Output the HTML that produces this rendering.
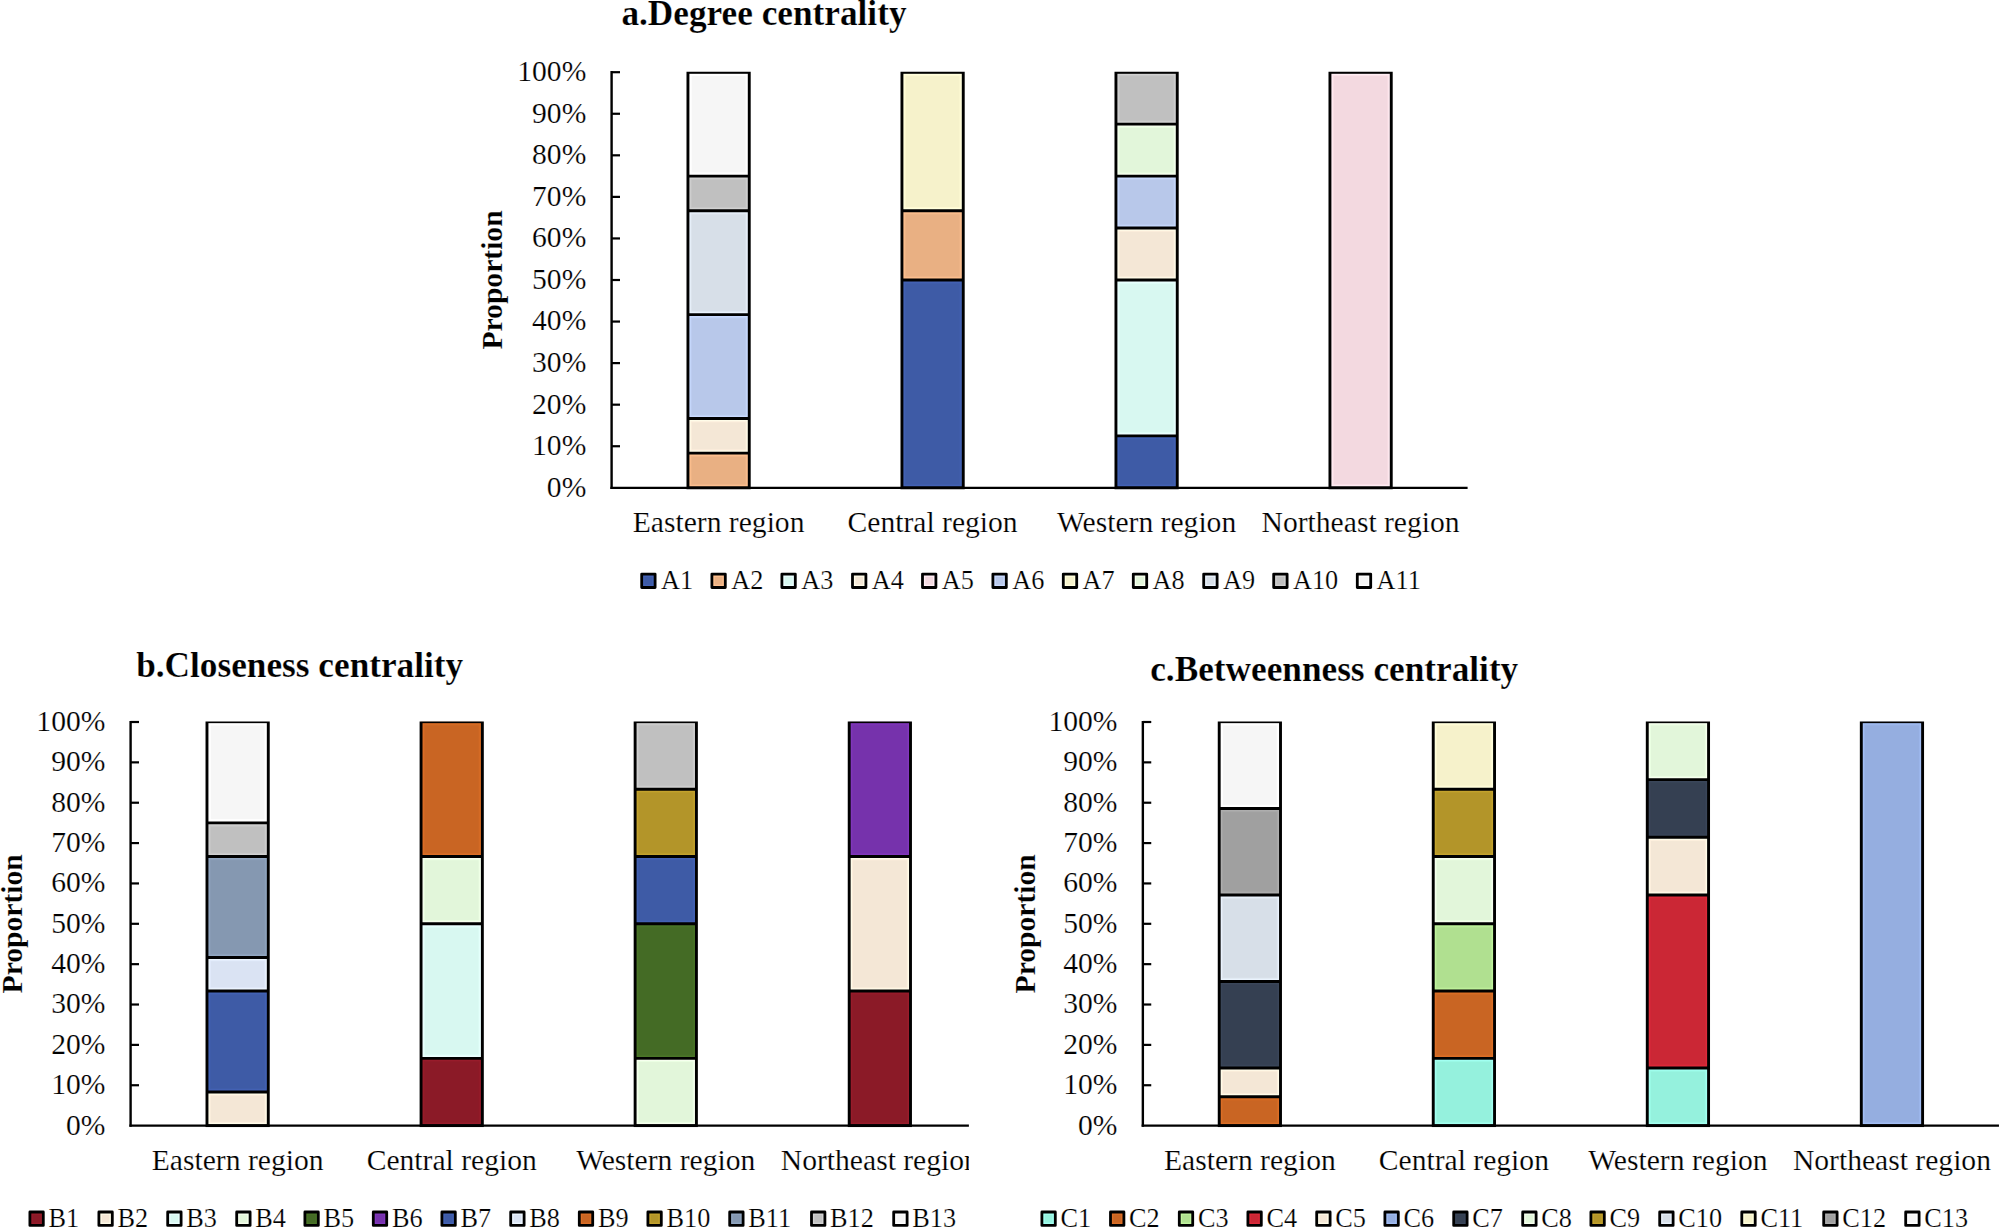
<!DOCTYPE html>
<html lang="en">
<head>
<meta charset="utf-8">
<title>Centrality proportion by region</title>
<style>
html,body{margin:0;padding:0;background:#fff;}
body{width:2000px;height:1229px;overflow:hidden;}
svg{display:block;}
text{font-family:"Liberation Serif",serif;fill:#000;stroke:#fff;stroke-width:0.2px;}
.title{font-size:35.25px;font-weight:bold;}
.ylab{font-size:29.6px;font-weight:bold;text-anchor:middle;}
.tick{font-size:29.6px;text-anchor:end;}
.cat{font-size:29.6px;text-anchor:middle;}
.leg{font-size:26.25px;}
.bar{stroke:#000;stroke-width:2.9;stroke-linejoin:miter;}
.sq{stroke:#000;stroke-width:2.8;stroke-linejoin:round;}
.axis{stroke:#000;fill:none;}
</style>
</head>
<body>
<svg width="2000" height="1229" viewBox="0 0 2000 1229">
<rect x="0" y="0" width="2000" height="1229" fill="#ffffff"/>

<g id="chart-a">
<clipPath id="clip-a"><rect x="0" y="71.8" width="2000" height="1157.2"/></clipPath>
<text class="title" x="621.4" y="24.8">a.Degree centrality</text>
<text class="ylab" transform="translate(502 280) rotate(-90)">Proportion</text>
<g clip-path="url(#clip-a)">
<rect x="687.95" y="453.17" width="61.3" height="34.63" fill="#FEC08F"/>
<rect x="690.7" y="455.92" width="55.8" height="29.13" fill="#F1B688"/>
<rect x="691.7" y="456.92" width="53.8" height="27.13" fill="#E9B083"/>
<rect x="687.95" y="418.53" width="61.3" height="34.63" fill="#FFFCE9"/>
<rect x="690.7" y="421.28" width="55.8" height="29.13" fill="#FDEFDD"/>
<rect x="691.7" y="422.28" width="53.8" height="27.13" fill="#F4E7D6"/>
<rect x="687.95" y="314.63" width="61.3" height="103.9" fill="#C9DAFF"/>
<rect x="690.7" y="317.38" width="55.8" height="98.4" fill="#BECFF2"/>
<rect x="691.7" y="318.38" width="53.8" height="96.4" fill="#B8C8EA"/>
<rect x="687.95" y="210.73" width="61.3" height="103.9" fill="#EAF3FD"/>
<rect x="690.7" y="213.48" width="55.8" height="98.4" fill="#DFE7F0"/>
<rect x="691.7" y="214.48" width="53.8" height="96.4" fill="#D7DFE8"/>
<rect x="687.95" y="176.1" width="61.3" height="34.63" fill="#D1D1D1"/>
<rect x="690.7" y="178.85" width="55.8" height="29.13" fill="#C7C7C7"/>
<rect x="691.7" y="179.85" width="53.8" height="27.13" fill="#C0C0C0"/>
<rect x="687.95" y="72.35" width="61.3" height="103.75" fill="#FFFFFF"/>
<rect x="690.7" y="75.1" width="55.8" height="98.25" fill="#FFFFFF"/>
<rect x="691.7" y="76.1" width="53.8" height="96.25" fill="#F6F6F6"/>
<path class="bar" d="M687.95 453.17H749.25M687.95 418.53H749.25M687.95 314.63H749.25M687.95 210.73H749.25M687.95 176.1H749.25" fill="none"/>
<rect class="bar" x="687.95" y="72.35" width="61.3" height="415.45" fill="none"/>
<rect x="901.95" y="280" width="61.3" height="207.8" fill="#4463B5"/>
<rect x="904.7" y="282.75" width="55.8" height="202.3" fill="#405EAC"/>
<rect x="905.7" y="283.75" width="53.8" height="200.3" fill="#3E5BA6"/>
<rect x="901.95" y="210.73" width="61.3" height="69.27" fill="#FEC08F"/>
<rect x="904.7" y="213.48" width="55.8" height="63.77" fill="#F1B688"/>
<rect x="905.7" y="214.48" width="53.8" height="61.77" fill="#E9B083"/>
<rect x="901.95" y="72.35" width="61.3" height="138.38" fill="#FFFFDD"/>
<rect x="904.7" y="75.1" width="55.8" height="132.88" fill="#FFFAD2"/>
<rect x="905.7" y="76.1" width="53.8" height="130.88" fill="#F6F2CB"/>
<path class="bar" d="M901.95 280H963.25M901.95 210.73H963.25" fill="none"/>
<rect class="bar" x="901.95" y="72.35" width="61.3" height="415.45" fill="none"/>
<rect x="1115.95" y="435.85" width="61.3" height="51.95" fill="#4463B5"/>
<rect x="1118.7" y="438.6" width="55.8" height="46.45" fill="#405EAC"/>
<rect x="1119.7" y="439.6" width="53.8" height="44.45" fill="#3E5BA6"/>
<rect x="1115.95" y="280" width="61.3" height="155.85" fill="#EBFFFF"/>
<rect x="1118.7" y="282.75" width="55.8" height="150.35" fill="#E0FFF9"/>
<rect x="1119.7" y="283.75" width="53.8" height="148.35" fill="#D8F8F1"/>
<rect x="1115.95" y="228.05" width="61.3" height="51.95" fill="#FFFCE9"/>
<rect x="1118.7" y="230.8" width="55.8" height="46.45" fill="#FDEFDD"/>
<rect x="1119.7" y="231.8" width="53.8" height="44.45" fill="#F4E7D6"/>
<rect x="1115.95" y="176.1" width="61.3" height="51.95" fill="#C9DAFF"/>
<rect x="1118.7" y="178.85" width="55.8" height="46.45" fill="#BECFF2"/>
<rect x="1119.7" y="179.85" width="53.8" height="44.45" fill="#B8C8EA"/>
<rect x="1115.95" y="124.15" width="61.3" height="51.95" fill="#F6FFEE"/>
<rect x="1118.7" y="126.9" width="55.8" height="46.45" fill="#EAFFE2"/>
<rect x="1119.7" y="127.9" width="53.8" height="44.45" fill="#E2F6DA"/>
<rect x="1115.95" y="72.35" width="61.3" height="51.8" fill="#D1D1D1"/>
<rect x="1118.7" y="75.1" width="55.8" height="46.3" fill="#C7C7C7"/>
<rect x="1119.7" y="76.1" width="53.8" height="44.3" fill="#C0C0C0"/>
<path class="bar" d="M1115.95 435.85H1177.25M1115.95 280H1177.25M1115.95 228.05H1177.25M1115.95 176.1H1177.25M1115.95 124.15H1177.25" fill="none"/>
<rect class="bar" x="1115.95" y="72.35" width="61.3" height="415.45" fill="none"/>
<rect x="1329.95" y="72.35" width="61.3" height="415.45" fill="#FFEDF4"/>
<rect x="1332.7" y="75.1" width="55.8" height="409.95" fill="#FCE1E8"/>
<rect x="1333.7" y="76.1" width="53.8" height="407.95" fill="#F3D9E0"/>
<rect class="bar" x="1329.95" y="72.35" width="61.3" height="415.45" fill="none"/>
<line class="axis" x1="610.4" y1="487.8" x2="1467.6" y2="487.8" stroke-width="2.2"/>
<text class="cat" x="718.6" y="532.2">Eastern region</text>
<text class="cat" x="932.6" y="532.2">Central region</text>
<text class="cat" x="1146.6" y="532.2">Western region</text>
<text class="cat" x="1360.6" y="532.2">Northeast region</text>
</g>
<line class="axis" x1="611.6" y1="71.1" x2="611.6" y2="488.9" stroke-width="2.4"/>
<text class="tick" x="586.3" y="496.7">0%</text>
<line class="axis" x1="611.6" y1="446.24" x2="620" y2="446.24" stroke-width="2.2"/>
<text class="tick" x="586.3" y="455.14">10%</text>
<line class="axis" x1="611.6" y1="404.68" x2="620" y2="404.68" stroke-width="2.2"/>
<text class="tick" x="586.3" y="413.58">20%</text>
<line class="axis" x1="611.6" y1="363.12" x2="620" y2="363.12" stroke-width="2.2"/>
<text class="tick" x="586.3" y="372.02">30%</text>
<line class="axis" x1="611.6" y1="321.56" x2="620" y2="321.56" stroke-width="2.2"/>
<text class="tick" x="586.3" y="330.46">40%</text>
<line class="axis" x1="611.6" y1="280" x2="620" y2="280" stroke-width="2.2"/>
<text class="tick" x="586.3" y="288.9">50%</text>
<line class="axis" x1="611.6" y1="238.44" x2="620" y2="238.44" stroke-width="2.2"/>
<text class="tick" x="586.3" y="247.34">60%</text>
<line class="axis" x1="611.6" y1="196.88" x2="620" y2="196.88" stroke-width="2.2"/>
<text class="tick" x="586.3" y="205.78">70%</text>
<line class="axis" x1="611.6" y1="155.32" x2="620" y2="155.32" stroke-width="2.2"/>
<text class="tick" x="586.3" y="164.22">80%</text>
<line class="axis" x1="611.6" y1="113.76" x2="620" y2="113.76" stroke-width="2.2"/>
<text class="tick" x="586.3" y="122.66">90%</text>
<line class="axis" x1="611.6" y1="72.2" x2="620" y2="72.2" stroke-width="2.2"/>
<text class="tick" x="586.3" y="81.1">100%</text>
<rect class="sq" x="641.7" y="574.1" width="13.4" height="13.4" fill="#4463B5"/>
<rect x="644.5" y="576.9" width="7.8" height="7.8" fill="#3E5BA6"/>
<text class="leg" x="661" y="589.4">A1</text>
<rect class="sq" x="711.9" y="574.1" width="13.4" height="13.4" fill="#FEC08F"/>
<rect x="714.7" y="576.9" width="7.8" height="7.8" fill="#E9B083"/>
<text class="leg" x="731.2" y="589.4">A2</text>
<rect class="sq" x="781.9" y="574.1" width="13.4" height="13.4" fill="#EBFFFF"/>
<rect x="784.7" y="576.9" width="7.8" height="7.8" fill="#D8F8F1"/>
<text class="leg" x="801.2" y="589.4">A3</text>
<rect class="sq" x="852.5" y="574.1" width="13.4" height="13.4" fill="#FFFCE9"/>
<rect x="855.3" y="576.9" width="7.8" height="7.8" fill="#F4E7D6"/>
<text class="leg" x="871.8" y="589.4">A4</text>
<rect class="sq" x="922.5" y="574.1" width="13.4" height="13.4" fill="#FFEDF4"/>
<rect x="925.3" y="576.9" width="7.8" height="7.8" fill="#F3D9E0"/>
<text class="leg" x="941.8" y="589.4">A5</text>
<rect class="sq" x="992.9" y="574.1" width="13.4" height="13.4" fill="#C9DAFF"/>
<rect x="995.7" y="576.9" width="7.8" height="7.8" fill="#B8C8EA"/>
<text class="leg" x="1012.2" y="589.4">A6</text>
<rect class="sq" x="1063.3" y="574.1" width="13.4" height="13.4" fill="#FFFFDD"/>
<rect x="1066.1" y="576.9" width="7.8" height="7.8" fill="#F6F2CB"/>
<text class="leg" x="1082.6" y="589.4">A7</text>
<rect class="sq" x="1133.3" y="574.1" width="13.4" height="13.4" fill="#F6FFEE"/>
<rect x="1136.1" y="576.9" width="7.8" height="7.8" fill="#E2F6DA"/>
<text class="leg" x="1152.6" y="589.4">A8</text>
<rect class="sq" x="1203.7" y="574.1" width="13.4" height="13.4" fill="#EAF3FD"/>
<rect x="1206.5" y="576.9" width="7.8" height="7.8" fill="#D7DFE8"/>
<text class="leg" x="1223" y="589.4">A9</text>
<rect class="sq" x="1273.7" y="574.1" width="13.4" height="13.4" fill="#D1D1D1"/>
<rect x="1276.5" y="576.9" width="7.8" height="7.8" fill="#C0C0C0"/>
<text class="leg" x="1293" y="589.4">A10</text>
<rect class="sq" x="1357.3" y="574.1" width="13.4" height="13.4" fill="#FFFFFF"/>
<rect x="1360.1" y="576.9" width="7.8" height="7.8" fill="#F6F6F6"/>
<text class="leg" x="1376.6" y="589.4">A11</text>
</g>
<g id="chart-b">
<clipPath id="clip-b"><rect x="0" y="721.6" width="968.9" height="507.4"/></clipPath>
<text class="title" x="136.2" y="677.2">b.Closeness centrality</text>
<text class="ylab" transform="translate(22 923.8) rotate(-90)">Proportion</text>
<g clip-path="url(#clip-b)">
<rect x="206.98" y="1091.97" width="61.3" height="33.63" fill="#FFFCE9"/>
<rect x="209.73" y="1094.72" width="55.8" height="28.13" fill="#FDEFDD"/>
<rect x="210.73" y="1095.72" width="53.8" height="26.13" fill="#F4E7D6"/>
<rect x="206.98" y="991.07" width="61.3" height="100.9" fill="#4463B5"/>
<rect x="209.73" y="993.82" width="55.8" height="95.4" fill="#405EAC"/>
<rect x="210.73" y="994.82" width="53.8" height="93.4" fill="#3E5BA6"/>
<rect x="206.98" y="957.43" width="61.3" height="33.63" fill="#EEF7FF"/>
<rect x="209.73" y="960.18" width="55.8" height="28.13" fill="#E2EBFC"/>
<rect x="210.73" y="961.18" width="53.8" height="26.13" fill="#DAE3F3"/>
<rect x="206.98" y="856.53" width="61.3" height="100.9" fill="#91A6C1"/>
<rect x="209.73" y="859.28" width="55.8" height="95.4" fill="#8A9DB7"/>
<rect x="210.73" y="860.28" width="53.8" height="93.4" fill="#8598B1"/>
<rect x="206.98" y="822.9" width="61.3" height="33.63" fill="#D1D1D1"/>
<rect x="209.73" y="825.65" width="55.8" height="28.13" fill="#C7C7C7"/>
<rect x="210.73" y="826.65" width="53.8" height="26.13" fill="#C0C0C0"/>
<rect x="206.98" y="721.7" width="61.3" height="101.2" fill="#FFFFFF"/>
<rect x="209.73" y="724.45" width="55.8" height="95.7" fill="#FFFFFF"/>
<rect x="210.73" y="725.45" width="53.8" height="93.7" fill="#F6F6F6"/>
<path class="bar" d="M206.98 1091.97H268.28M206.98 991.07H268.28M206.98 957.43H268.28M206.98 856.53H268.28M206.98 822.9H268.28" fill="none"/>
<rect class="bar" x="206.98" y="721.7" width="61.3" height="403.9" fill="none"/>
<rect x="421.06" y="1058.33" width="61.3" height="67.27" fill="#981C2B"/>
<rect x="423.81" y="1061.08" width="55.8" height="61.77" fill="#901B28"/>
<rect x="424.81" y="1062.08" width="53.8" height="59.77" fill="#8B1A27"/>
<rect x="421.06" y="923.8" width="61.3" height="134.53" fill="#EBFFFF"/>
<rect x="423.81" y="926.55" width="55.8" height="129.03" fill="#E0FFF9"/>
<rect x="424.81" y="927.55" width="53.8" height="127.03" fill="#D8F8F1"/>
<rect x="421.06" y="856.53" width="61.3" height="67.27" fill="#F6FFEE"/>
<rect x="423.81" y="859.28" width="55.8" height="61.77" fill="#EAFFE2"/>
<rect x="424.81" y="860.28" width="53.8" height="59.77" fill="#E2F6DA"/>
<rect x="421.06" y="721.7" width="61.3" height="134.83" fill="#DB6E26"/>
<rect x="423.81" y="724.45" width="55.8" height="129.33" fill="#D06924"/>
<rect x="424.81" y="725.45" width="53.8" height="127.33" fill="#C96523"/>
<path class="bar" d="M421.06 1058.33H482.36M421.06 923.8H482.36M421.06 856.53H482.36" fill="none"/>
<rect class="bar" x="421.06" y="721.7" width="61.3" height="403.9" fill="none"/>
<rect x="635.12" y="1058.33" width="61.3" height="67.27" fill="#F6FFEE"/>
<rect x="637.88" y="1061.08" width="55.8" height="61.77" fill="#EAFFE2"/>
<rect x="638.88" y="1062.08" width="53.8" height="59.77" fill="#E2F6DA"/>
<rect x="635.12" y="923.8" width="61.3" height="134.53" fill="#4A7528"/>
<rect x="637.88" y="926.55" width="55.8" height="129.03" fill="#466F26"/>
<rect x="638.88" y="927.55" width="53.8" height="127.03" fill="#446B25"/>
<rect x="635.12" y="856.53" width="61.3" height="67.27" fill="#4463B5"/>
<rect x="637.88" y="859.28" width="55.8" height="61.77" fill="#405EAC"/>
<rect x="638.88" y="860.28" width="53.8" height="59.77" fill="#3E5BA6"/>
<rect x="635.12" y="789.27" width="61.3" height="67.27" fill="#C3A22D"/>
<rect x="637.88" y="792.02" width="55.8" height="61.77" fill="#B99A2A"/>
<rect x="638.88" y="793.02" width="53.8" height="59.77" fill="#B39529"/>
<rect x="635.12" y="721.7" width="61.3" height="67.57" fill="#D1D1D1"/>
<rect x="637.88" y="724.45" width="55.8" height="62.07" fill="#C7C7C7"/>
<rect x="638.88" y="725.45" width="53.8" height="60.07" fill="#C0C0C0"/>
<path class="bar" d="M635.12 1058.33H696.42M635.12 923.8H696.42M635.12 856.53H696.42M635.12 789.27H696.42" fill="none"/>
<rect class="bar" x="635.12" y="721.7" width="61.3" height="403.9" fill="none"/>
<rect x="849.2" y="991.07" width="61.3" height="134.53" fill="#981C2B"/>
<rect x="851.95" y="993.82" width="55.8" height="129.03" fill="#901B28"/>
<rect x="852.95" y="994.82" width="53.8" height="127.03" fill="#8B1A27"/>
<rect x="849.2" y="856.53" width="61.3" height="134.53" fill="#FFFCE9"/>
<rect x="851.95" y="859.28" width="55.8" height="129.03" fill="#FDEFDD"/>
<rect x="852.95" y="860.28" width="53.8" height="127.03" fill="#F4E7D6"/>
<rect x="849.2" y="721.7" width="61.3" height="134.83" fill="#8137BB"/>
<rect x="851.95" y="724.45" width="55.8" height="129.33" fill="#7A34B2"/>
<rect x="852.95" y="725.45" width="53.8" height="127.33" fill="#7632AC"/>
<path class="bar" d="M849.2 991.07H910.5M849.2 856.53H910.5" fill="none"/>
<rect class="bar" x="849.2" y="721.7" width="61.3" height="403.9" fill="none"/>
<line class="axis" x1="129.4" y1="1125.6" x2="986.88" y2="1125.6" stroke-width="2.2"/>
<text class="cat" x="237.63" y="1170">Eastern region</text>
<text class="cat" x="451.71" y="1170">Central region</text>
<text class="cat" x="665.77" y="1170">Western region</text>
<text class="cat" x="879.85" y="1170">Northeast region</text>
</g>
<line class="axis" x1="130.6" y1="720.9" x2="130.6" y2="1126.7" stroke-width="2.4"/>
<text class="tick" x="105.4" y="1134.5">0%</text>
<line class="axis" x1="130.6" y1="1085.24" x2="139" y2="1085.24" stroke-width="2.2"/>
<text class="tick" x="105.4" y="1094.14">10%</text>
<line class="axis" x1="130.6" y1="1044.88" x2="139" y2="1044.88" stroke-width="2.2"/>
<text class="tick" x="105.4" y="1053.78">20%</text>
<line class="axis" x1="130.6" y1="1004.52" x2="139" y2="1004.52" stroke-width="2.2"/>
<text class="tick" x="105.4" y="1013.42">30%</text>
<line class="axis" x1="130.6" y1="964.16" x2="139" y2="964.16" stroke-width="2.2"/>
<text class="tick" x="105.4" y="973.06">40%</text>
<line class="axis" x1="130.6" y1="923.8" x2="139" y2="923.8" stroke-width="2.2"/>
<text class="tick" x="105.4" y="932.7">50%</text>
<line class="axis" x1="130.6" y1="883.44" x2="139" y2="883.44" stroke-width="2.2"/>
<text class="tick" x="105.4" y="892.34">60%</text>
<line class="axis" x1="130.6" y1="843.08" x2="139" y2="843.08" stroke-width="2.2"/>
<text class="tick" x="105.4" y="851.98">70%</text>
<line class="axis" x1="130.6" y1="802.72" x2="139" y2="802.72" stroke-width="2.2"/>
<text class="tick" x="105.4" y="811.62">80%</text>
<line class="axis" x1="130.6" y1="762.36" x2="139" y2="762.36" stroke-width="2.2"/>
<text class="tick" x="105.4" y="771.26">90%</text>
<line class="axis" x1="130.6" y1="722" x2="139" y2="722" stroke-width="2.2"/>
<text class="tick" x="105.4" y="730.9">100%</text>
<rect class="sq" x="29.9" y="1212" width="13.4" height="13.4" fill="#981C2B"/>
<rect x="32.7" y="1214.8" width="7.8" height="7.8" fill="#8B1A27"/>
<text class="leg" x="48.5" y="1226.9">B1</text>
<rect class="sq" x="98.9" y="1212" width="13.4" height="13.4" fill="#FFFCE9"/>
<rect x="101.7" y="1214.8" width="7.8" height="7.8" fill="#F4E7D6"/>
<text class="leg" x="117.5" y="1226.9">B2</text>
<rect class="sq" x="167.7" y="1212" width="13.4" height="13.4" fill="#EBFFFF"/>
<rect x="170.5" y="1214.8" width="7.8" height="7.8" fill="#D8F8F1"/>
<text class="leg" x="186.3" y="1226.9">B3</text>
<rect class="sq" x="236.7" y="1212" width="13.4" height="13.4" fill="#F6FFEE"/>
<rect x="239.5" y="1214.8" width="7.8" height="7.8" fill="#E2F6DA"/>
<text class="leg" x="255.3" y="1226.9">B4</text>
<rect class="sq" x="304.9" y="1212" width="13.4" height="13.4" fill="#4A7528"/>
<rect x="307.7" y="1214.8" width="7.8" height="7.8" fill="#446B25"/>
<text class="leg" x="323.5" y="1226.9">B5</text>
<rect class="sq" x="373.3" y="1212" width="13.4" height="13.4" fill="#8137BB"/>
<rect x="376.1" y="1214.8" width="7.8" height="7.8" fill="#7632AC"/>
<text class="leg" x="391.9" y="1226.9">B6</text>
<rect class="sq" x="441.9" y="1212" width="13.4" height="13.4" fill="#4463B5"/>
<rect x="444.7" y="1214.8" width="7.8" height="7.8" fill="#3E5BA6"/>
<text class="leg" x="460.5" y="1226.9">B7</text>
<rect class="sq" x="510.7" y="1212" width="13.4" height="13.4" fill="#EEF7FF"/>
<rect x="513.5" y="1214.8" width="7.8" height="7.8" fill="#DAE3F3"/>
<text class="leg" x="529.3" y="1226.9">B8</text>
<rect class="sq" x="579.3" y="1212" width="13.4" height="13.4" fill="#DB6E26"/>
<rect x="582.1" y="1214.8" width="7.8" height="7.8" fill="#C96523"/>
<text class="leg" x="597.9" y="1226.9">B9</text>
<rect class="sq" x="647.9" y="1212" width="13.4" height="13.4" fill="#C3A22D"/>
<rect x="650.7" y="1214.8" width="7.8" height="7.8" fill="#B39529"/>
<text class="leg" x="666.5" y="1226.9">B10</text>
<rect class="sq" x="729.7" y="1212" width="13.4" height="13.4" fill="#91A6C1"/>
<rect x="732.5" y="1214.8" width="7.8" height="7.8" fill="#8598B1"/>
<text class="leg" x="748.3" y="1226.9">B11</text>
<rect class="sq" x="811.5" y="1212" width="13.4" height="13.4" fill="#D1D1D1"/>
<rect x="814.3" y="1214.8" width="7.8" height="7.8" fill="#C0C0C0"/>
<text class="leg" x="830.1" y="1226.9">B12</text>
<rect class="sq" x="893.7" y="1212" width="13.4" height="13.4" fill="#FFFFFF"/>
<rect x="896.5" y="1214.8" width="7.8" height="7.8" fill="#F6F6F6"/>
<text class="leg" x="912.3" y="1226.9">B13</text>
</g>
<g id="chart-c">
<clipPath id="clip-c"><rect x="0" y="721.6" width="2000" height="507.4"/></clipPath>
<text class="title" x="1150.2" y="681">c.Betweenness centrality</text>
<text class="ylab" transform="translate(1035 923.8) rotate(-90)">Proportion</text>
<g clip-path="url(#clip-c)">
<rect x="1219.21" y="1096.77" width="61.3" height="28.83" fill="#DB6E26"/>
<rect x="1221.96" y="1099.52" width="55.8" height="23.33" fill="#D06924"/>
<rect x="1222.96" y="1100.52" width="53.8" height="21.33" fill="#C96523"/>
<rect x="1219.21" y="1067.94" width="61.3" height="28.83" fill="#FFFCE9"/>
<rect x="1221.96" y="1070.69" width="55.8" height="23.33" fill="#FDEFDD"/>
<rect x="1222.96" y="1071.69" width="53.8" height="21.33" fill="#F4E7D6"/>
<rect x="1219.21" y="981.46" width="61.3" height="86.49" fill="#3A4659"/>
<rect x="1221.96" y="984.21" width="55.8" height="80.99" fill="#374255"/>
<rect x="1222.96" y="985.21" width="53.8" height="78.99" fill="#354052"/>
<rect x="1219.21" y="894.97" width="61.3" height="86.49" fill="#EAF3FD"/>
<rect x="1221.96" y="897.72" width="55.8" height="80.99" fill="#DFE7F0"/>
<rect x="1222.96" y="898.72" width="53.8" height="78.99" fill="#D7DFE8"/>
<rect x="1219.21" y="808.49" width="61.3" height="86.49" fill="#AEAEAE"/>
<rect x="1221.96" y="811.24" width="55.8" height="80.99" fill="#A6A6A6"/>
<rect x="1222.96" y="812.24" width="53.8" height="78.99" fill="#A0A0A0"/>
<rect x="1219.21" y="721.7" width="61.3" height="86.79" fill="#FFFFFF"/>
<rect x="1221.96" y="724.45" width="55.8" height="81.29" fill="#FFFFFF"/>
<rect x="1222.96" y="725.45" width="53.8" height="79.29" fill="#F6F6F6"/>
<path class="bar" d="M1219.21 1096.77H1280.51M1219.21 1067.94H1280.51M1219.21 981.46H1280.51M1219.21 894.97H1280.51M1219.21 808.49H1280.51" fill="none"/>
<rect class="bar" x="1219.21" y="721.7" width="61.3" height="403.9" fill="none"/>
<rect x="1433.24" y="1058.33" width="61.3" height="67.27" fill="#A2FFF1"/>
<rect x="1435.99" y="1061.08" width="55.8" height="61.77" fill="#9AF9E5"/>
<rect x="1436.99" y="1062.08" width="53.8" height="59.77" fill="#95F1DD"/>
<rect x="1433.24" y="991.07" width="61.3" height="67.27" fill="#DB6E26"/>
<rect x="1435.99" y="993.82" width="55.8" height="61.77" fill="#D06924"/>
<rect x="1436.99" y="994.82" width="53.8" height="59.77" fill="#C96523"/>
<rect x="1433.24" y="923.8" width="61.3" height="67.27" fill="#C0F49D"/>
<rect x="1435.99" y="926.55" width="55.8" height="61.77" fill="#B6E895"/>
<rect x="1436.99" y="927.55" width="53.8" height="59.77" fill="#B0E090"/>
<rect x="1433.24" y="856.53" width="61.3" height="67.27" fill="#F6FFEE"/>
<rect x="1435.99" y="859.28" width="55.8" height="61.77" fill="#EAFFE2"/>
<rect x="1436.99" y="860.28" width="53.8" height="59.77" fill="#E2F6DA"/>
<rect x="1433.24" y="789.27" width="61.3" height="67.27" fill="#C3A22D"/>
<rect x="1435.99" y="792.02" width="55.8" height="61.77" fill="#B99A2A"/>
<rect x="1436.99" y="793.02" width="53.8" height="59.77" fill="#B39529"/>
<rect x="1433.24" y="721.7" width="61.3" height="67.57" fill="#FFFFDD"/>
<rect x="1435.99" y="724.45" width="55.8" height="62.07" fill="#FFFAD2"/>
<rect x="1436.99" y="725.45" width="53.8" height="60.07" fill="#F6F2CB"/>
<path class="bar" d="M1433.24 1058.33H1494.54M1433.24 991.07H1494.54M1433.24 923.8H1494.54M1433.24 856.53H1494.54M1433.24 789.27H1494.54" fill="none"/>
<rect class="bar" x="1433.24" y="721.7" width="61.3" height="403.9" fill="none"/>
<rect x="1647.27" y="1067.94" width="61.3" height="57.66" fill="#A2FFF1"/>
<rect x="1650.02" y="1070.69" width="55.8" height="52.16" fill="#9AF9E5"/>
<rect x="1651.02" y="1071.69" width="53.8" height="50.16" fill="#95F1DD"/>
<rect x="1647.27" y="894.97" width="61.3" height="172.97" fill="#DD2B3A"/>
<rect x="1650.02" y="897.72" width="55.8" height="167.47" fill="#D22837"/>
<rect x="1651.02" y="898.72" width="53.8" height="165.47" fill="#CB2735"/>
<rect x="1647.27" y="837.31" width="61.3" height="57.66" fill="#FFFCE9"/>
<rect x="1650.02" y="840.06" width="55.8" height="52.16" fill="#FDEFDD"/>
<rect x="1651.02" y="841.06" width="53.8" height="50.16" fill="#F4E7D6"/>
<rect x="1647.27" y="779.66" width="61.3" height="57.66" fill="#3A4659"/>
<rect x="1650.02" y="782.41" width="55.8" height="52.16" fill="#374255"/>
<rect x="1651.02" y="783.41" width="53.8" height="50.16" fill="#354052"/>
<rect x="1647.27" y="721.7" width="61.3" height="57.96" fill="#F6FFEE"/>
<rect x="1650.02" y="724.45" width="55.8" height="52.46" fill="#EAFFE2"/>
<rect x="1651.02" y="725.45" width="53.8" height="50.46" fill="#E2F6DA"/>
<path class="bar" d="M1647.27 1067.94H1708.57M1647.27 894.97H1708.57M1647.27 837.31H1708.57M1647.27 779.66H1708.57" fill="none"/>
<rect class="bar" x="1647.27" y="721.7" width="61.3" height="403.9" fill="none"/>
<rect x="1861.3" y="721.7" width="61.3" height="403.9" fill="#A2BEF4"/>
<rect x="1864.05" y="724.45" width="55.8" height="398.4" fill="#9AB4E8"/>
<rect x="1865.05" y="725.45" width="53.8" height="396.4" fill="#95AEE0"/>
<rect class="bar" x="1861.3" y="721.7" width="61.3" height="403.9" fill="none"/>
<line class="axis" x1="1141.65" y1="1125.6" x2="1998.97" y2="1125.6" stroke-width="2.2"/>
<text class="cat" x="1249.87" y="1170">Eastern region</text>
<text class="cat" x="1463.89" y="1170">Central region</text>
<text class="cat" x="1677.92" y="1170">Western region</text>
<text class="cat" x="1891.95" y="1170">Northeast region</text>
</g>
<line class="axis" x1="1142.85" y1="720.9" x2="1142.85" y2="1126.7" stroke-width="2.4"/>
<text class="tick" x="1117.5" y="1134.5">0%</text>
<line class="axis" x1="1142.85" y1="1085.24" x2="1151.25" y2="1085.24" stroke-width="2.2"/>
<text class="tick" x="1117.5" y="1094.14">10%</text>
<line class="axis" x1="1142.85" y1="1044.88" x2="1151.25" y2="1044.88" stroke-width="2.2"/>
<text class="tick" x="1117.5" y="1053.78">20%</text>
<line class="axis" x1="1142.85" y1="1004.52" x2="1151.25" y2="1004.52" stroke-width="2.2"/>
<text class="tick" x="1117.5" y="1013.42">30%</text>
<line class="axis" x1="1142.85" y1="964.16" x2="1151.25" y2="964.16" stroke-width="2.2"/>
<text class="tick" x="1117.5" y="973.06">40%</text>
<line class="axis" x1="1142.85" y1="923.8" x2="1151.25" y2="923.8" stroke-width="2.2"/>
<text class="tick" x="1117.5" y="932.7">50%</text>
<line class="axis" x1="1142.85" y1="883.44" x2="1151.25" y2="883.44" stroke-width="2.2"/>
<text class="tick" x="1117.5" y="892.34">60%</text>
<line class="axis" x1="1142.85" y1="843.08" x2="1151.25" y2="843.08" stroke-width="2.2"/>
<text class="tick" x="1117.5" y="851.98">70%</text>
<line class="axis" x1="1142.85" y1="802.72" x2="1151.25" y2="802.72" stroke-width="2.2"/>
<text class="tick" x="1117.5" y="811.62">80%</text>
<line class="axis" x1="1142.85" y1="762.36" x2="1151.25" y2="762.36" stroke-width="2.2"/>
<text class="tick" x="1117.5" y="771.26">90%</text>
<line class="axis" x1="1142.85" y1="722" x2="1151.25" y2="722" stroke-width="2.2"/>
<text class="tick" x="1117.5" y="730.9">100%</text>
<rect class="sq" x="1041.9" y="1212" width="13.4" height="13.4" fill="#A2FFF1"/>
<rect x="1044.7" y="1214.8" width="7.8" height="7.8" fill="#95F1DD"/>
<text class="leg" x="1060.5" y="1226.9">C1</text>
<rect class="sq" x="1110.5" y="1212" width="13.4" height="13.4" fill="#DB6E26"/>
<rect x="1113.3" y="1214.8" width="7.8" height="7.8" fill="#C96523"/>
<text class="leg" x="1129.1" y="1226.9">C2</text>
<rect class="sq" x="1179.3" y="1212" width="13.4" height="13.4" fill="#C0F49D"/>
<rect x="1182.1" y="1214.8" width="7.8" height="7.8" fill="#B0E090"/>
<text class="leg" x="1197.9" y="1226.9">C3</text>
<rect class="sq" x="1247.9" y="1212" width="13.4" height="13.4" fill="#DD2B3A"/>
<rect x="1250.7" y="1214.8" width="7.8" height="7.8" fill="#CB2735"/>
<text class="leg" x="1266.5" y="1226.9">C4</text>
<rect class="sq" x="1316.7" y="1212" width="13.4" height="13.4" fill="#FFFCE9"/>
<rect x="1319.5" y="1214.8" width="7.8" height="7.8" fill="#F4E7D6"/>
<text class="leg" x="1335.3" y="1226.9">C5</text>
<rect class="sq" x="1384.9" y="1212" width="13.4" height="13.4" fill="#A2BEF4"/>
<rect x="1387.7" y="1214.8" width="7.8" height="7.8" fill="#95AEE0"/>
<text class="leg" x="1403.5" y="1226.9">C6</text>
<rect class="sq" x="1453.7" y="1212" width="13.4" height="13.4" fill="#3A4659"/>
<rect x="1456.5" y="1214.8" width="7.8" height="7.8" fill="#354052"/>
<text class="leg" x="1472.3" y="1226.9">C7</text>
<rect class="sq" x="1522.7" y="1212" width="13.4" height="13.4" fill="#F6FFEE"/>
<rect x="1525.5" y="1214.8" width="7.8" height="7.8" fill="#E2F6DA"/>
<text class="leg" x="1541.3" y="1226.9">C8</text>
<rect class="sq" x="1590.9" y="1212" width="13.4" height="13.4" fill="#C3A22D"/>
<rect x="1593.7" y="1214.8" width="7.8" height="7.8" fill="#B39529"/>
<text class="leg" x="1609.5" y="1226.9">C9</text>
<rect class="sq" x="1659.7" y="1212" width="13.4" height="13.4" fill="#EAF3FD"/>
<rect x="1662.5" y="1214.8" width="7.8" height="7.8" fill="#D7DFE8"/>
<text class="leg" x="1678.3" y="1226.9">C10</text>
<rect class="sq" x="1741.8" y="1212" width="13.4" height="13.4" fill="#FFFFDD"/>
<rect x="1744.6" y="1214.8" width="7.8" height="7.8" fill="#F6F2CB"/>
<text class="leg" x="1760.4" y="1226.9">C11</text>
<rect class="sq" x="1823.7" y="1212" width="13.4" height="13.4" fill="#AEAEAE"/>
<rect x="1826.5" y="1214.8" width="7.8" height="7.8" fill="#A0A0A0"/>
<text class="leg" x="1842.3" y="1226.9">C12</text>
<rect class="sq" x="1905.7" y="1212" width="13.4" height="13.4" fill="#FFFFFF"/>
<rect x="1908.5" y="1214.8" width="7.8" height="7.8" fill="#F6F6F6"/>
<text class="leg" x="1924.3" y="1226.9">C13</text>
</g>
</svg>
</body>
</html>
